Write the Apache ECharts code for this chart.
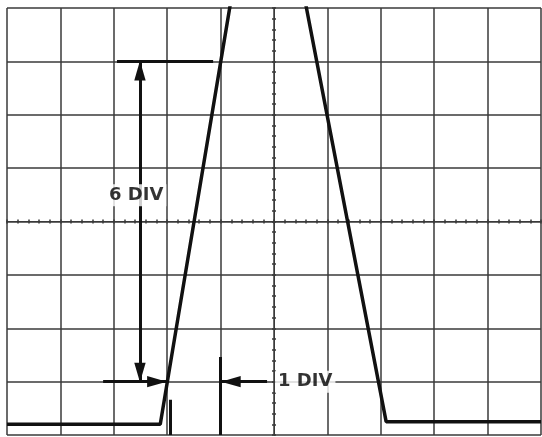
<!DOCTYPE html>
<html>
<head>
<meta charset="utf-8">
<script src="https://cdn.jsdelivr.net/npm/echarts@6/dist/echarts.min.js"></script>
<style>
  html, body { margin: 0; padding: 0; background: #fff; }
  #chart { width: 542px; height: 437px; }
</style>
</head>
<body>
<div id="chart"></div>
<script>
// graticule in divisions, centred on the screen (10 x 8 div)
const xRange = [-5, 5]
const yRange = [-4, 4]

// the trace
const traceX = [-5, -2.13, -0.78, 0.55, 2.1, 5]
const traceY = [-3.8, -3.8, 4.3, 4.3, -3.75, -3.75]

// measurement marks
const plainSegs = [
  [[-2.94, 3], [-1.14, 3]],
  [[-1.95, -4], [-1.95, -3.34]],
  [[-1, -4], [-1, -2.54]]
]
const arrowSegs = [
  [[-2.51, 0.5], [-2.51, 3]],
  [[-2.51, 0.5], [-2.51, -3]],
  [[-3.2, -3], [-2.02, -3]],
  [[-0.13, -3], [-0.98, -3]]
]
const labelNames = ['6 DIV', '1 DIV']
const labelX = [-2.58, 0.02]
const labelY = [0.49, -3]
const labelAlign = ['center', 'left']

const chart = echarts.init(document.getElementById('chart'))

const gridColor = '#3a3a3a'
// narrow arrowhead whose tip sits at the centre of its box
const arrowHead = 'path://M0,0 M30,30 M15,15 L19.5,31 L10.5,31 Z'

function makeAxis(range, inside, withGrid) {
  return {
    type: 'value',
    min: range[0],
    max: range[1],
    interval: 1,
    axisLabel: { show: false },
    axisLine: { show: true, onZero: true, lineStyle: { color: gridColor, width: 1 } },
    axisTick: { show: true, inside: inside, length: 2, lineStyle: { color: gridColor, width: 1.5 } },
    minorTick: { show: true, splitNumber: 5, length: 2, lineStyle: { color: gridColor, width: 1.5 } },
    splitLine: { show: withGrid, lineStyle: { color: gridColor, width: 1.5 } }
  }
}

const xAxis = [makeAxis(xRange, false, true), makeAxis(xRange, true, false)]
const yAxis = [makeAxis(yRange, false, true), makeAxis(yRange, true, false)]
xAxis[1].position = 'bottom'
yAxis[1].position = 'left'

chart.setOption({
  animation: false,
  backgroundColor: '#fff',
  grid: { left: 7, right: 1, top: 8, bottom: 2 },
  xAxis: xAxis,
  yAxis: yAxis,
  series: [
    {
      type: 'line',
      data: traceX.map((x, i) => [x, traceY[i]]),
      showSymbol: false,
      lineStyle: { color: '#111', width: 3.5 },
      z: 5
    },
    {
      type: 'lines',
      coordinateSystem: 'cartesian2d',
      data: plainSegs.map(c => ({ coords: c })),
      symbol: 'none',
      lineStyle: { color: '#111', width: 3, opacity: 1 },
      z: 6
    },
    {
      type: 'lines',
      coordinateSystem: 'cartesian2d',
      data: arrowSegs.map(c => ({ coords: c })),
      symbol: ['none', arrowHead],
      symbolSize: 38,
      lineStyle: { color: '#111', width: 3, opacity: 1 },
      z: 6
    },
    {
      type: 'scatter',
      data: labelNames.map((n, i) => ({
        name: n,
        value: [labelX[i], labelY[i]],
        label: { align: labelAlign[i] }
      })),
      symbolSize: 0,
      silent: true,
      z: 8,
      label: {
        show: true,
        position: 'inside',
        formatter: '{b}',
        fontFamily: 'DejaVu Sans',
        fontWeight: 'bold',
        fontSize: 18,
        color: '#000',
        textBorderWidth: 0,
        backgroundColor: '#fff',
        padding: [2, 3]
      }
    }
  ]
})
</script>
</body>
</html>
